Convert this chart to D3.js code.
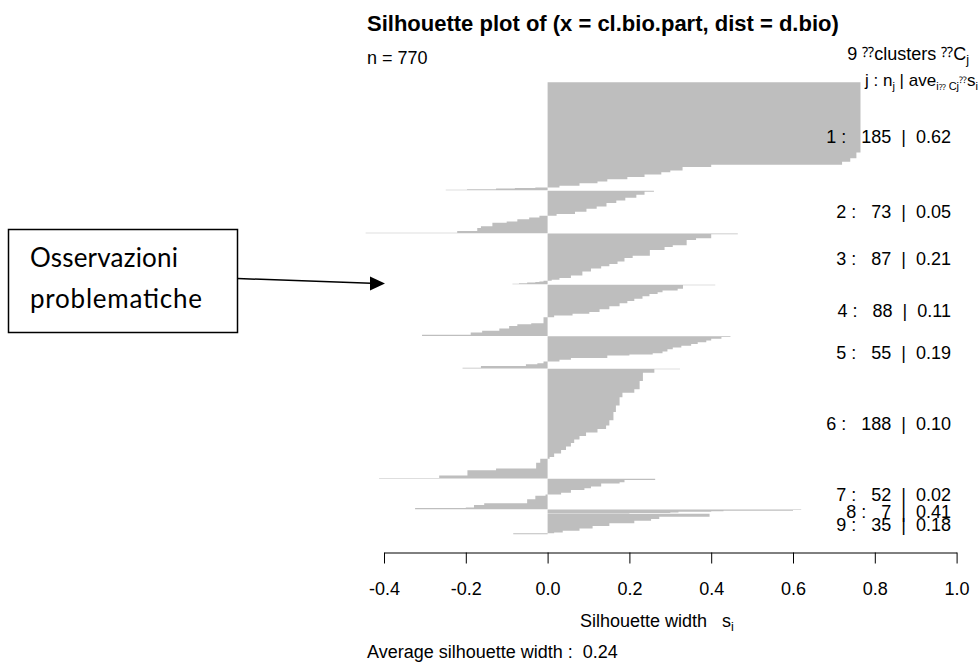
<!DOCTYPE html>
<html><head><meta charset="utf-8">
<script src="https://cdn.jsdelivr.net/npm/d3@7"></script>
<style>
body{margin:0;background:#fff}
svg{display:block}
text{font-family:"Liberation Sans",Arial,Helvetica,sans-serif;fill:#000}
.pre{white-space:pre}
</style>
</head><body>
<svg id="chart" width="980" height="666"></svg>
<script>
// ---- data ----
const clusterIds = [1, 2, 3, 4, 5, 6, 7, 8, 9];
const clusterSizes = [185, 73, 87, 88, 55, 188, 52, 7, 35];
const clusterAvgWidths = ["0.62", "0.05", "0.21", "0.11", "0.19", "0.10", "0.02", "0.41", "0.18"];
const averageWidth = "0.24";
const nObs = 770;
const xTicks = [-0.4, -0.2, 0.0, 0.2, 0.4, 0.6, 0.8, 1.0];
// silhouette widths (sorted, descending): [count, width]
const sil1 = [[120,0.765],[10,0.755],[6,0.74],[5,0.72],[4,0.40],[6,0.33],[3,0.30],[4,0.278],[4,0.237],[4,0.195],[4,0.146],[3,0.122],[4,0.078],[3,0.029],[1,-0.03],[1,-0.08],[1,-0.126],[1,-0.197],[1,-0.249]];
const sil2 = [[2,0.26],[5,0.237],[5,0.217],[5,0.19],[4,0.168],[6,0.144],[4,0.12],[5,0.095],[4,0.067],[3,0.022],[3,-0.02],[3,-0.045],[4,-0.074],[2,-0.10],[6,-0.135],[3,-0.163],[5,-0.172],[3,-0.221],[1,-0.445]];
const sil3 = [[1,0.465],[7,0.40],[3,0.363],[9,0.34],[3,0.306],[5,0.286],[10,0.25],[4,0.208],[6,0.188],[4,0.171],[4,0.151],[4,0.131],[5,0.106],[7,0.085],[4,0.057],[3,0.029],[2,0.01],[1,-0.01],[1,-0.02],[1,-0.03],[1,-0.05],[1,-0.07],[1,-0.086]];
const sil4 = [[1,0.41],[6,0.331],[3,0.318],[3,0.281],[3,0.269],[4,0.249],[4,0.232],[4,0.212],[4,0.195],[5,0.176],[5,0.151],[5,0.127],[3,0.102],[3,0.061],[3,0.016],[10,-0.01],[2,-0.04],[3,-0.074],[4,-0.094],[4,-0.118],[3,-0.16],[4,-0.188],[2,-0.307]];
const sil5 = [[1,0.447],[3,0.425],[3,0.40],[3,0.388],[3,0.367],[3,0.351],[3,0.327],[3,0.306],[4,0.293],[3,0.281],[2,0.257],[2,0.20],[4,0.146],[3,0.057],[3,0.029],[3,-0.01],[2,-0.025],[3,-0.053],[3,-0.163],[1,-0.208]];
const sil6 = [[1,0.324],[6,0.261],[14,0.233],[14,0.225],[6,0.212],[8,0.183],[14,0.176],[11,0.167],[14,0.161],[9,0.151],[6,0.143],[6,0.122],[6,0.094],[6,0.078],[6,0.065],[6,0.057],[6,0.045],[6,0.033],[6,0.016],[3,0.005],[7,-0.018],[10,-0.028],[3,-0.126],[9,-0.196],[4,-0.265],[1,-0.412]];
const sil7 = [[2,0.263],[4,0.188],[2,0.176],[5,0.131],[3,0.106],[3,0.09],[5,0.057],[3,0.033],[2,-0.005],[6,-0.03],[7,-0.05],[3,-0.155],[4,-0.18],[1,-0.2],[2,-0.324]];
const sil8 = [[1,0.62],[1,0.60],[1,0.43],[1,0.40],[1,0.32],[1,0.30],[1,0.20]];
const sil9 = [[5,0.396],[4,0.273],[3,0.253],[4,0.212],[5,0.151],[4,0.11],[4,0.078],[3,0.037],[1,0.016],[2,-0.084]];
const silRuns = [sil1, sil2, sil3, sil4, sil5, sil6, sil7, sil8, sil9];
const annotationLines = ["Osservazioni", "problematiche"];

// ---- layout ----
const svg = d3.select("#chart");
const GAP = 0.5; // gap between clusters, in bar units
const totalUnits = d3.sum(clusterSizes) + GAP * (clusterSizes.length - 1);
const x = d3.scaleLinear().domain([-0.4, 1.0]).range([384, 956.6]);
const y = d3.scaleLinear().domain([0, totalUnits]).range([82.3, 534.3]);
const FS = 18, FSUB = 12.6;

// expand runs into individual bars
const clusters = [];
let off = 0;
silRuns.forEach((runs, ci) => {
  const vals = [];
  runs.forEach(([n, s]) => { for (let k = 0; k < n; k++) vals.push(s); });
  clusters.push({ id: clusterIds[ci], n: clusterSizes[ci], avg: clusterAvgWidths[ci], start: off, vals });
  off += clusterSizes[ci] + GAP;
});

const area = d3.area().x0(x(0)).x1(d => x(d.s)).y(d => y(d.u));
const gBars = svg.append("g");
clusters.forEach(c => {
  const pts = [];
  c.vals.forEach((s, i) => {
    pts.push({ u: c.start + i, s });
    pts.push({ u: c.start + i + 1, s });
  });
  gBars.append("path").attr("d", area(pts)).attr("fill", "#bebebe").attr("stroke", "none");
});

// axis
const axisY = 552.5;
const gAx = svg.append("g").attr("transform", `translate(0,${axisY})`)
  .call(d3.axisBottom(x).tickValues(xTicks).tickSize(11).tickSizeOuter(0).tickFormat(d => d.toFixed(1)));
gAx.select(".domain").attr("stroke", "#000").attr("stroke-width", 1);
gAx.selectAll(".tick line").attr("stroke", "#000").attr("stroke-width", 1);
gAx.selectAll(".tick text").attr("y", 42.5).attr("dy", 0)
  .style("font-family", '"Liberation Sans",Arial,sans-serif').style("font-size", FS + "px").attr("fill", "#000");

// title and margin texts
svg.append("text").attr("x", 367).attr("y", 31).style("font-size", "22px").style("font-weight", "bold")
  .text("Silhouette plot of (x = cl.bio.part, dist = d.bio)");
svg.append("text").attr("x", 367).attr("y", 64).style("font-size", FS + "px").text("n = " + nObs);

const h1 = svg.append("text").attr("class", "pre").attr("x", 969).attr("y", 60).attr("text-anchor", "end").style("font-size", FS + "px");
h1.append("tspan").text(clusters.length + " ");
h1.append("tspan").style("font-size", "14px").attr("dy", -3).text("\u2047");
h1.append("tspan").attr("dy", 3).text("clusters ");
h1.append("tspan").style("font-size", "14px").attr("dy", -3).text("\u2047");
h1.append("tspan").attr("dy", 3).text("C");
h1.append("tspan").style("font-size", FSUB + "px").attr("dy", 4).text("j");

const h2 = svg.append("text").attr("class", "pre").attr("x", 978).attr("y", 86).attr("text-anchor", "end").style("font-size", "17px");
h2.append("tspan").text("j : n");
h2.append("tspan").style("font-size", "11px").attr("dy", 4).text("j");
h2.append("tspan").attr("dy", -4).text(" | ave");
h2.append("tspan").style("font-size", "11px").attr("dy", 4).text("i");
h2.append("tspan").style("font-size", "8px").text("\u2047");
h2.append("tspan").style("font-size", "11px").text(" Cj");
h2.append("tspan").style("font-size", "9px").attr("dy", -7).text("\u2047");
h2.append("tspan").attr("dy", 3).text("s");
h2.append("tspan").style("font-size", "11px").attr("dy", 4).text("i");

// cluster labels (right aligned)
const gLab = svg.append("g").style("font-size", FS + "px");
clusters.forEach(c => {
  const yc = (y(c.start) + y(c.start + c.n)) / 2 + 6.5;
  gLab.append("text").attr("class", "pre").attr("x", 951).attr("y", yc).attr("text-anchor", "end")
    .text(`${c.id} :   ${c.n}  |  ${c.avg}`);
});

// x label
const xl = svg.append("text").attr("class", "pre").attr("x", 580).attr("y", 627).style("font-size", FS + "px");
xl.append("tspan").text("Silhouette width   s");
xl.append("tspan").style("font-size", FSUB + "px").attr("dy", 4).text("i");

svg.append("text").attr("class", "pre").attr("x", 367).attr("y", 658).style("font-size", FS + "px")
  .text("Average silhouette width :  " + averageWidth);

// annotation box with arrow
svg.append("rect").attr("x", 8.5).attr("y", 229.5).attr("width", 229).attr("height", 103)
  .attr("fill", "#fff").attr("stroke", "#000").attr("stroke-width", 1.5);
annotationLines.forEach((t, i) => {
  svg.append("text").attr("x", 30).attr("y", 267 + i * 41)
    .style("font-family", "Lato, 'Open Sans', sans-serif").style("font-size", "26px")
    .attr("textLength", i === 0 ? 148 : 172).attr("lengthAdjust", "spacing").text(t);
});
svg.append("line").attr("x1", 237.5).attr("y1", 278.5).attr("x2", 371).attr("y2", 283.3)
  .attr("stroke", "#000").attr("stroke-width", 1.5);
svg.append("path").attr("d", "M385,283.5 L370,276.5 L370,290.5 Z").attr("fill", "#000");
</script>
</body></html>
